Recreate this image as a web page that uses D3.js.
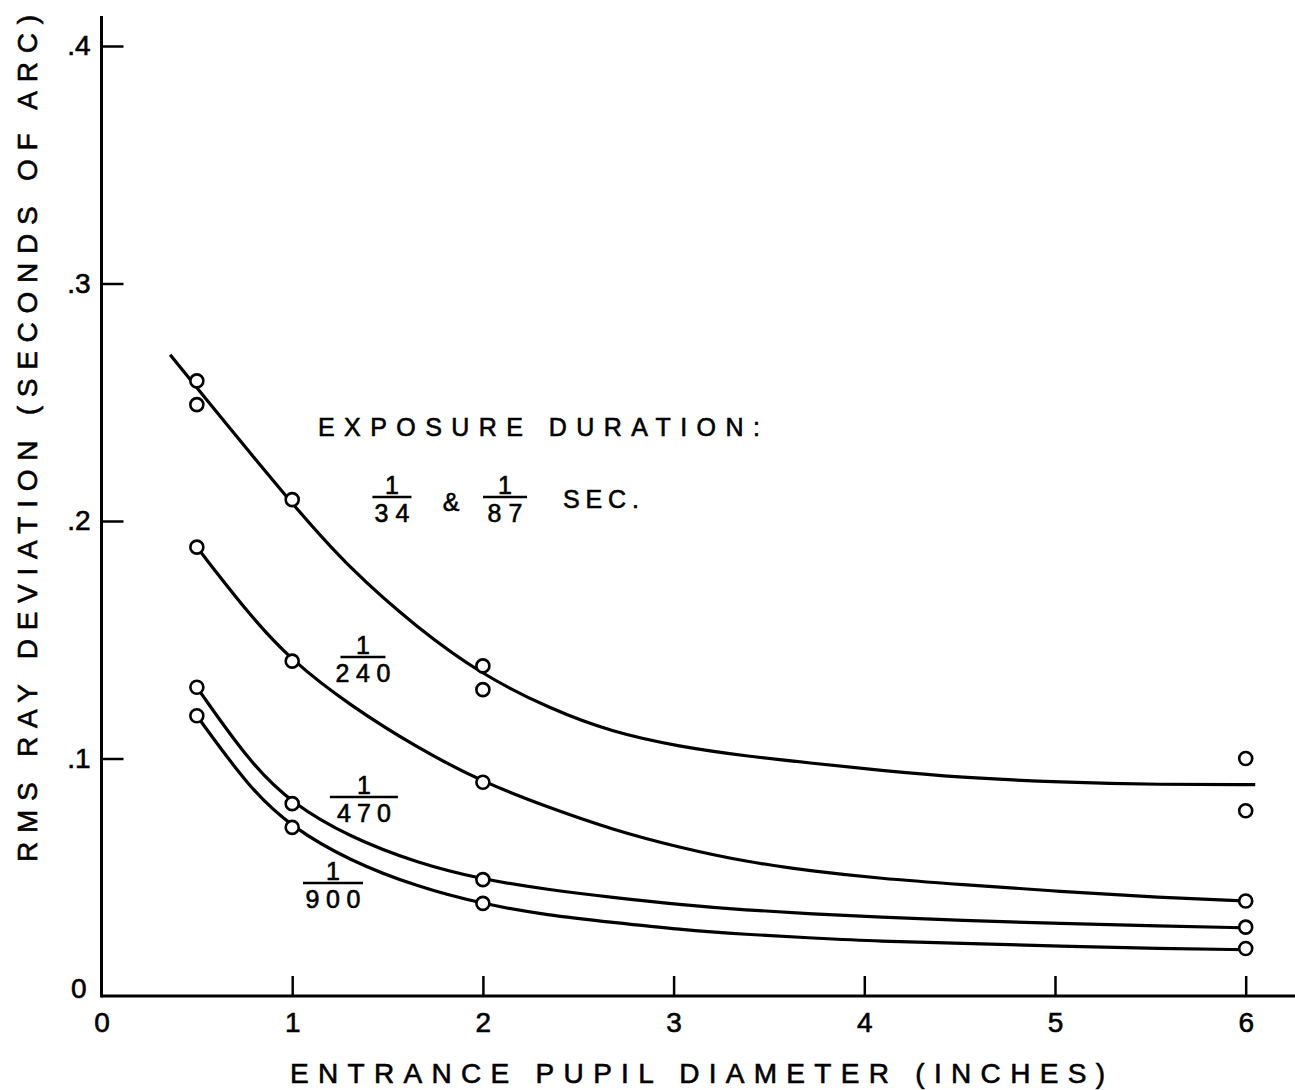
<!DOCTYPE html>
<html><head><meta charset="utf-8">
<script src="https://cdn.jsdelivr.net/npm/d3@7"></script>
<style>body{margin:0;background:#fff}svg{display:block}</style>
</head><body><svg id="chart" width="1295" height="1090"></svg>
<script>
// ---------- data ----------
const xTickValues = [0, 1, 2, 3, 4, 5, 6];
const xTickLabels = ["0", "1", "2", "3", "4", "5", "6"];
const yTickValues = [0, 0.1, 0.2, 0.3, 0.4];
const yTickLabels = ["0", ".1", ".2", ".3", ".4"];
const xTitle = "ENTRANCE PUPIL DIAMETER (INCHES)";
const yTitle = "RMS RAY DEVIATION (SECONDS OF ARC)";
const annotationTitle = "EXPOSURE DURATION:";
const seriesNames = ["1/34 & 1/87", "1/240", "1/470", "1/900"];

// measured points (circles)
const pointsA_x = [0.5, 0.5, 1, 2, 2, 6, 6];
const pointsA_y = [0.259, 0.249, 0.209, 0.139, 0.129, 0.100, 0.078];
const pointsB_x = [0.5, 1, 2, 6];
const pointsB_y = [0.189, 0.141, 0.090, 0.040];
const pointsC_x = [0.5, 1, 2, 6];
const pointsC_y = [0.130, 0.081, 0.049, 0.029];
const pointsD_x = [0.5, 1, 2, 6];
const pointsD_y = [0.118, 0.071, 0.039, 0.020];

// smooth fitted curves
const curveA_x = [0.36, 0.5, 1.0, 1.30, 1.655, 2.0, 2.35, 2.68, 3.03, 3.38, 3.73, 4.08, 4.50, 5.03, 5.55, 6.05];
const curveA_y = [0.270, 0.256, 0.207, 0.180, 0.155, 0.135, 0.121, 0.111, 0.105, 0.101, 0.098, 0.095, 0.092, 0.090, 0.089, 0.089];
const curveB_x = [0.5, 0.78, 1.0, 1.30, 1.655, 2.0, 2.34, 2.68, 3.03, 3.38, 3.73, 4.08, 4.50, 5.03, 5.55, 6.0];
const curveB_y = [0.189, 0.160, 0.141, 0.1225, 0.1045, 0.090, 0.0795, 0.070, 0.0625, 0.0565, 0.0525, 0.0495, 0.047, 0.044, 0.0415, 0.040];
const curveC_x = [0.5, 0.78, 1.0, 1.30, 1.655, 2.0, 2.34, 2.68, 3.03, 3.38, 3.73, 4.08, 4.50, 5.03, 5.55, 6.0];
const curveC_y = [0.130, 0.098, 0.081, 0.067, 0.056, 0.049, 0.0448, 0.0415, 0.0385, 0.0362, 0.0345, 0.0332, 0.0318, 0.0305, 0.0295, 0.0287];
const curveD_x = [0.5, 0.78, 1.0, 1.30, 1.655, 2.0, 2.34, 2.68, 3.03, 3.38, 3.73, 4.08, 4.50, 5.03, 5.55, 6.0];
const curveD_y = [0.118, 0.087, 0.071, 0.057, 0.046, 0.0387, 0.034, 0.031, 0.028, 0.0259, 0.0244, 0.0230, 0.0222, 0.0210, 0.0200, 0.0195];

// ---------- layout ----------
const FONT = "'Liberation Sans', Arial, sans-serif";
const TXT_STROKE = 0.6;
const svg = d3.select("#chart");
const x = d3.scaleLinear().domain([0, 6]).range([101.5, 1245.7]);
const y = d3.scaleLinear().domain([0, 0.4]).range([996, 46]);

const g = svg.append("g");

// axis lines
g.append("line").attr("x1", x(0)).attr("x2", 1295).attr("y1", y(0)).attr("y2", y(0))
  .attr("stroke", "#000").attr("stroke-width", 3);
g.append("line").attr("x1", x(0)).attr("x2", x(0)).attr("y1", y(0) + 1.5).attr("y2", 16)
  .attr("stroke", "#000").attr("stroke-width", 3);

// x axis
const xAxis = d3.axisBottom(x).tickValues(xTickValues)
  .tickFormat((d, i) => xTickLabels[i]).tickSize(-20).tickPadding(16);
const xg = g.append("g").attr("transform", `translate(0,${y(0)})`).call(xAxis);
xg.select(".domain").remove();
xg.selectAll(".tick line").attr("stroke", "#000").attr("stroke-width", 2.5)
  .filter(d => d === 0).remove();
xg.selectAll(".tick text").attr("font-family", FONT).attr("font-size", 28).attr("fill", "#000")
  .attr("stroke", "#000").attr("stroke-width", TXT_STROKE);

// y axis
const yAxis = d3.axisLeft(y).tickValues(yTickValues)
  .tickFormat((d, i) => yTickLabels[i]).tickSize(-22).tickPadding(11);
const yg = g.append("g").attr("transform", `translate(${x(0)},0)`).call(yAxis);
yg.select(".domain").remove();
yg.selectAll(".tick line").attr("stroke", "#000").attr("stroke-width", 2.5)
  .filter(d => d === 0).remove();
yg.selectAll(".tick text").attr("font-family", FONT).attr("font-size", 28).attr("fill", "#000")
  .attr("stroke", "#000").attr("stroke-width", TXT_STROKE);
yg.selectAll(".tick text").filter(d => d === 0).attr("dy", "0.05em").attr("x", -15);

// axis titles
g.append("text").attr("x", 290).attr("y", 1083).attr("font-family", FONT).attr("font-size", 28)
  .attr("stroke", "#000").attr("stroke-width", TXT_STROKE)
  .attr("textLength", 815).attr("lengthAdjust", "spacing").text(xTitle);
g.append("text").attr("transform", "translate(37,862) rotate(-90)")
  .attr("font-family", FONT).attr("font-size", 28)
  .attr("stroke", "#000").attr("stroke-width", TXT_STROKE)
  .attr("textLength", 847).attr("lengthAdjust", "spacing").text(yTitle);

// curves
const line = d3.line().x(d => x(d[0])).y(d => y(d[1])).curve(d3.curveBasis);
const curves = [[curveA_x, curveA_y], [curveB_x, curveB_y], [curveC_x, curveC_y], [curveD_x, curveD_y]];
curves.forEach(([xs, ys]) => {
  g.append("path").datum(xs.map((v, i) => [v, ys[i]])).attr("d", line)
    .attr("fill", "none").attr("stroke", "#000").attr("stroke-width", 3.2);
});

// points
const points = [[pointsA_x, pointsA_y], [pointsB_x, pointsB_y], [pointsC_x, pointsC_y], [pointsD_x, pointsD_y]];
points.forEach(([xs, ys]) => {
  g.selectAll(null).data(xs.map((v, i) => [v, ys[i]])).enter().append("circle")
    .attr("cx", d => x(d[0])).attr("cy", d => y(d[1])).attr("r", 6.5)
    .attr("fill", "#fff").attr("stroke", "#000").attr("stroke-width", 2.6);
});

// annotations
const ann = g.append("g").attr("font-family", FONT).attr("fill", "#000")
  .attr("stroke", "#000").attr("stroke-width", TXT_STROKE);
ann.append("text").attr("x", x(1.135)).attr("y", y(0.2358)).attr("font-size", 25)
  .attr("textLength", 442).attr("lengthAdjust", "spacing").text(annotationTitle);

function fraction(cxData, barData, num, den, barW, denLen) {
  const cx = x(cxData), by = y(barData);
  ann.append("line").attr("x1", cx - barW / 2).attr("x2", cx + barW / 2).attr("y1", by).attr("y2", by)
    .attr("stroke", "#000").attr("stroke-width", 2.5);
  ann.append("text").attr("x", cx).attr("y", by - 3).attr("text-anchor", "middle").attr("font-size", 25).text(num);
  ann.append("text").attr("x", cx - denLen / 2).attr("y", by + 25).attr("font-size", 25)
    .attr("textLength", denLen).attr("lengthAdjust", "spacing").text(den);
}
fraction(1.523, 0.2101, "1", "34", 39, 35);
ann.append("text").attr("x", x(1.833)).attr("y", y(0.2042)).attr("text-anchor", "middle").attr("font-size", 25).text("&");
fraction(2.116, 0.2101, "1", "87", 44, 35);
ann.append("text").attr("x", x(2.42)).attr("y", y(0.2055)).attr("font-size", 25)
  .attr("textLength", 76).attr("lengthAdjust", "spacing").text("SEC.");
fraction(1.371, 0.1427, "1", "240", 45, 55);
fraction(1.376, 0.0838, "1", "470", 68, 54);
fraction(1.214, 0.0476, "1", "900", 60, 55);
</script></body></html>
